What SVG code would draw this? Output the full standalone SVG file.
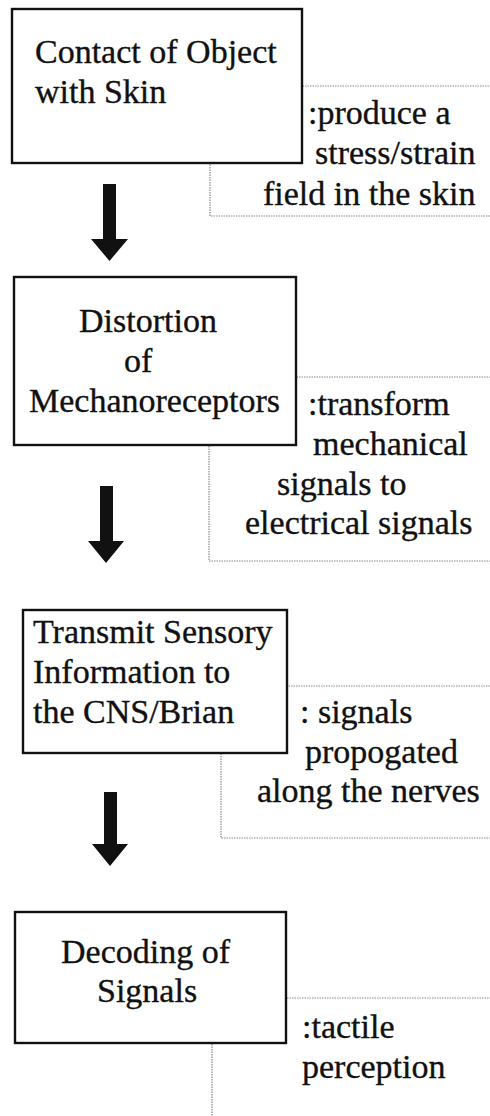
<svg xmlns="http://www.w3.org/2000/svg" width="490" height="1116" viewBox="0 0 490 1116">
<defs>
<style>
.box{fill:#fff;stroke:#111;stroke-width:2.4}
.call{fill:none;stroke:#8a8a8a;stroke-width:1.2;stroke-dasharray:1.5 1}
.t{font-family:'Liberation Serif','DejaVu Serif',serif;font-size:34px;fill:#111;stroke:#111;stroke-width:0.35}
.arr{fill:#111}
</style>
</defs>
<rect width="490" height="1116" fill="#fff"/>
<g id="callouts">
<rect class="call" x="210" y="86" width="300" height="130"/>
<rect class="call" x="209" y="377" width="300" height="184"/>
<rect class="call" x="221" y="686" width="300" height="152"/>
<rect class="call" x="212" y="998" width="300" height="140"/>
</g>
<g id="connectors">
<path class="arr" d="M103,184 H116 V239 H128 L109.5,261 L91,239 H103 Z"/>
<path class="arr" d="M100,486 H113 V541 H124 L106,563 L88,541 H100 Z"/>
<path class="arr" d="M104,792 H117 V844 H128 L110,866 L92,844 H104 Z"/>
</g>
<g id="node1">
<rect class="box" x="12" y="9" width="290" height="154"/>
<text class="t" x="35" y="63">Contact of Object</text>
<text class="t" x="35" y="103">with Skin</text>
</g>
<g id="note1">
<text class="t" x="308" y="124">:produce a</text>
<text class="t" x="315" y="164">stress/strain</text>
<text class="t" x="263" y="205">field in the skin</text>
</g>
<g id="node2">
<rect class="box" x="14" y="277" width="282" height="168"/>
<text class="t" x="79" y="332">Distortion</text>
<text class="t" x="124" y="372">of</text>
<text class="t" x="29" y="412">Mechanoreceptors</text>
</g>
<g id="note2">
<text class="t" x="308" y="415">:transform</text>
<text class="t" x="313" y="455">mechanical</text>
<text class="t" x="277" y="495">signals to</text>
<text class="t" x="245" y="534">electrical signals</text>
</g>
<g id="node3">
<rect class="box" x="23" y="610" width="264" height="143"/>
<text class="t" x="33" y="643">Transmit Sensory</text>
<text class="t" x="33" y="683">Information to</text>
<text class="t" x="33" y="723">the CNS/Brian</text>
</g>
<g id="note3">
<text class="t" x="300" y="723">: signals</text>
<text class="t" x="305" y="763">propogated</text>
<text class="t" x="257" y="802">along the nerves</text>
</g>
<g id="node4">
<rect class="box" x="15" y="912" width="271" height="131"/>
<text class="t" x="61" y="963">Decoding of</text>
<text class="t" x="97" y="1002">Signals</text>
</g>
<g id="note4">
<text class="t" x="302" y="1038">:tactile</text>
<text class="t" x="302" y="1078">perception</text>
</g>
</svg>
